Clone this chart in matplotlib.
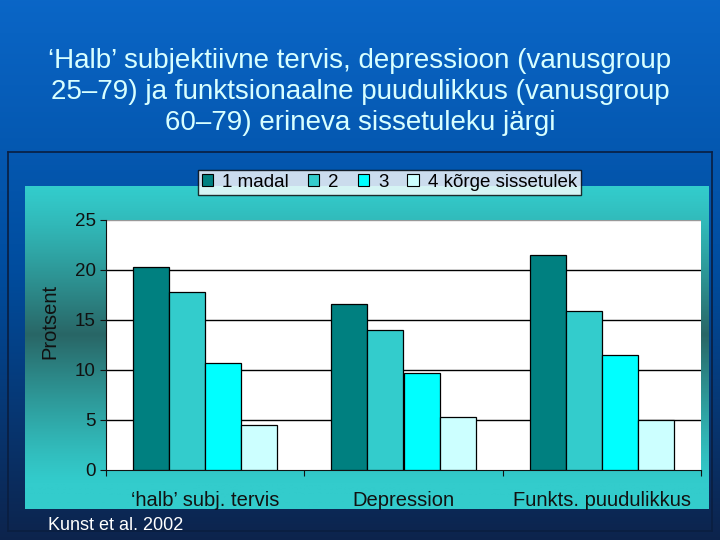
import numpy as np
import matplotlib.pyplot as plt
from matplotlib.patches import Patch

plt.rcParams['font.family'] = ['Liberation Sans', 'DejaVu Sans']

# data
categories = ['‘halb’ subj. tervis', 'Depression', 'Funkts. puudulikkus']
series_names = ['1 madal', '2', '3', '4 kõrge sissetulek']
madal = [20.3, 16.6, 21.5]
grupp2 = [17.8, 14.0, 15.9]
grupp3 = [10.7, 9.7, 11.5]
korge = [4.5, 5.3, 5.0]
values = [madal, grupp2, grupp3, korge]
colors = ['#008080', '#33CCCC', '#00FFFF', '#CCFFFF']

title = ('‘Halb’ subjektiivne tervis, depressioon (vanusgroup\n'
         '25–79) ja funktsionaalne puudulikkus (vanusgroup\n'
         '60–79) erineva sissetuleku järgi')

W, H = 720, 540
fig = plt.figure(figsize=(7.2, 5.4), dpi=100)


def fbox(x0, y0, x1, y1):
    # pixel box (top-left origin) -> figure fraction rect
    return [x0 / W, 1 - y1 / H, (x1 - x0) / W, (y1 - y0) / H]


# slide background: blue vertical gradient
bg = fig.add_axes([0, 0, 1, 1])
t = np.linspace(0, 1, 256)[:, None]
top = np.array([0.04, 0.40, 0.78])
mid = np.array([0.00, 0.30, 0.62])
bot = np.array([0.05, 0.14, 0.30])
grad = np.where(t < 0.5, 1 - t / 0.5, 0)[..., None] * top + \
    (1 - np.abs(t - 0.5) / 0.5)[..., None] * mid + \
    np.where(t > 0.5, (t - 0.5) / 0.5, 0)[..., None] * bot
bg.imshow(np.repeat(grad, 2, axis=1), aspect='auto', extent=[0, 1, 0, 1])
bg.set_axis_off()

# outer frame of the chart object
frame = fig.add_axes(fbox(8, 152, 712, 531))
frame.set_xticks([])
frame.set_yticks([])
frame.patch.set_alpha(0)
for s in frame.spines.values():
    s.set_color('#0a1e40')
    s.set_linewidth(1.2)

# chart area: teal gradient, light - dark - light
ca = fig.add_axes(fbox(25, 186, 709, 509))
u = np.linspace(0, 1, 256)[:, None]
light = np.array([0.20, 0.80, 0.80])
dark = np.array([0.16, 0.40, 0.40])
w = np.clip(1 - np.abs(u - 0.46) / 0.46, 0, 1) ** 1.2
tgrad = (1 - w)[..., None] * light + w[..., None] * dark
ca.imshow(np.repeat(tgrad, 2, axis=1), aspect='auto', extent=[0, 1, 0, 1])
ca.set_axis_off()

# plot area
ax = fig.add_axes(fbox(106, 220, 701, 470))
ax.set_facecolor('white')
x = np.arange(len(categories))
bw = 0.182
for i, (vals, c) in enumerate(zip(values, colors)):
    ax.bar(x + (i - 1.5) * bw, vals, bw, color=c, edgecolor='black',
           linewidth=0.9, zorder=3)

ax.set_xlim(-0.5, 2.5)
ax.set_ylim(0, 25)
ax.set_yticks(range(0, 26, 5))
ax.yaxis.grid(True, color='black', linewidth=1.0, zorder=0)
ax.get_ygridlines()[-1].set_color('#999999')
ax.get_ygridlines()[0].set_visible(False)
ax.set_axisbelow(True)
ax.tick_params(axis='y', direction='out', length=4.5, width=0.8,
               colors='#111111', labelsize=13.5, pad=3)

ax.set_xticks([-0.5, 0.5, 1.5, 2.5])
ax.set_xticklabels([])
ax.set_xticks(x, minor=True)
ax.set_xticklabels(categories, minor=True, fontsize=14.5, color='#111111')
ax.tick_params(axis='x', which='major', direction='out', length=4,
               width=0.8, color='#111111')
ax.tick_params(axis='x', which='minor', length=0, pad=15)

for side in ['top', 'right']:
    ax.spines[side].set_visible(False)
ax.spines['left'].set_color('#111111')
ax.spines['bottom'].set_color('#111111')

ax.set_ylabel('Protsent', fontsize=14.5, color='#111111')
ax.yaxis.set_label_coords(-0.079, 0.596)

# legend
handles = [Patch(facecolor=c, edgecolor='black', linewidth=0.8)
           for c in colors]
leg = fig.legend(handles, series_names, loc='center', ncol=4,
                 bbox_to_anchor=(389.5 / W, 1 - 182.5 / H),
                 fontsize=13.5, frameon=True, fancybox=False,
                 handlelength=0.6, handleheight=0.6, handletextpad=0.5,
                 columnspacing=1.0, borderpad=0.2, borderaxespad=0)
leg.get_frame().set_edgecolor('black')
leg.get_frame().set_linewidth(1.0)
leg.get_frame().set_facecolor('white')

# title and source
fig.text(0.5, 1 - 92 / H, title, ha='center', va='center', fontsize=20,
         color='#d8ffff', linespacing=1.27)
fig.text(48 / W, 1 - 525 / H, 'Kunst et al. 2002', ha='left', va='center',
         fontsize=13, color='white')

fig.savefig('out.png', dpi=100)
